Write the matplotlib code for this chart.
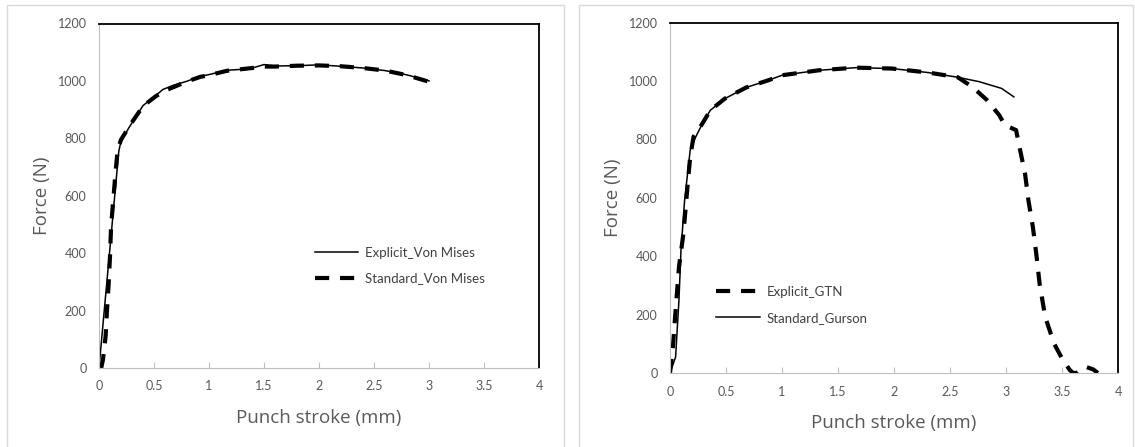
import matplotlib
matplotlib.use("Agg")
import matplotlib.pyplot as plt
from matplotlib.patches import Rectangle

# left panel: von Mises models
vm_explicit_x = [0.0, 0.18, 0.2, 0.28, 0.4, 0.51, 0.58, 0.67, 0.8, 0.92, 1.0, 1.16, 1.37, 1.5,
                 1.6, 1.8, 2.0, 2.2, 2.4, 2.6, 2.8, 3.0]
vm_explicit_f = [0, 755, 790, 842, 914, 947, 970, 984, 999, 1016, 1022, 1037, 1042, 1057,
                 1052, 1053, 1056, 1051, 1045, 1036, 1021, 1000]
vm_standard_x = [0.02, 0.036, 0.06, 0.073, 0.088, 0.10, 0.11, 0.13, 0.15, 0.17, 0.2, 0.28, 0.4,
                 0.51, 0.6, 0.7, 0.8, 0.92, 1.0, 1.16, 1.37, 1.5, 1.6, 1.8, 2.0, 2.2, 2.4,
                 2.6, 2.8, 3.0]
vm_standard_f = [0, 29, 110, 203, 296, 389, 494, 587, 680, 761, 795, 845, 912, 945, 966, 982,
                 998, 1014, 1020, 1035, 1044, 1050, 1050, 1053, 1054, 1051, 1045, 1036,
                 1020, 997]

# right panel: damage models
gtn_x = [0.0, 0.026, 0.05, 0.08, 0.12, 0.156, 0.18, 0.21, 0.29, 0.36, 0.49, 0.68, 0.88, 1.0,
         1.33, 1.66, 1.98, 2.31, 2.57, 2.7, 2.83, 2.94, 2.99, 3.09, 3.12, 3.17, 3.2, 3.24,
         3.27, 3.30, 3.35, 3.43, 3.51, 3.57, 3.6, 3.63, 3.68, 3.72, 3.78, 3.82]
gtn_f = [0, 89, 215, 363, 478, 638, 740, 809, 855, 900, 940, 978, 1003, 1020, 1037, 1046,
         1043, 1029, 1013, 980, 935, 883, 849, 832, 775, 683, 592, 500, 409, 306, 192, 100,
         43, 10, 0, 0, 18, 20, 12, 0]
gurson_x = [0.0, 0.05, 0.08, 0.098, 0.13, 0.18, 0.23, 0.29, 0.36, 0.49, 0.68, 0.88, 1.0, 1.33,
            1.66, 1.98, 2.31, 2.57, 2.76, 2.96, 3.07]
gurson_f = [0, 55, 250, 420, 590, 763, 809, 855, 900, 940, 978, 1003, 1020, 1037, 1046, 1043,
            1029, 1013, 998, 975, 946]

x_ticks = [0, 0.5, 1, 1.5, 2, 2.5, 3, 3.5, 4]
x_ticklabels = ["0", "0.5", "1", "1.5", "2", "2.5", "3", "3.5", "4"]
y_ticks = [0, 200, 400, 600, 800, 1000, 1200]

GREY = "#595959"
W, H = 1135, 447

fig = plt.figure(figsize=(W / 100, H / 100), dpi=100)

# panel frames
for x0, x1 in [(7, 564), (579, 1133)]:
    fig.patches.append(Rectangle((x0 / W, -0.05), (x1 - x0) / W, 1 - 5 / H + 0.05,
                                 transform=fig.transFigure, fill=False,
                                 edgecolor="#d9d9d9", linewidth=1.0))

ax1 = fig.add_axes([99 / W, 1 - 368 / H, 440 / W, 344.5 / H])
ax2 = fig.add_axes([670 / W, 1 - 373 / H, 448 / W, 350.3 / H])

dash_kw = dict(color="black", linewidth=3.0, linestyle=(0, (3.4, 2.6)),
               solid_capstyle="butt", dash_capstyle="butt")
solid_kw = dict(color="black", linewidth=1.1)

ax1.plot(vm_explicit_x, vm_explicit_f, label="Explicit_Von Mises", **solid_kw)
ax1.plot(vm_standard_x, vm_standard_f, label="Standard_Von Mises", **dash_kw)

ax2.plot(gtn_x, gtn_f, label="Explicit_GTN", **dash_kw)
ax2.plot(gurson_x, gurson_f, label="Standard_Gurson", **solid_kw)

for ax in (ax1, ax2):
    ax.set_xlim(0, 4)
    ax.set_ylim(0, 1200)
    ax.set_xticks(x_ticks)
    ax.set_xticklabels(x_ticklabels)
    ax.set_yticks(y_ticks)
    ax.tick_params(axis="x", direction="in", length=4, width=0.8, color="#bfbfbf",
                   labelcolor=GREY, labelsize=9, pad=9)
    ax.tick_params(axis="y", length=0, labelcolor=GREY, labelsize=9, pad=9)
    for lab in ax.get_xticklabels() + ax.get_yticklabels():
        lab.set_family("Lato")
    for side in ("left", "bottom"):
        ax.spines[side].set_color("#bfbfbf")
        ax.spines[side].set_linewidth(0.8)
    for side in ("top", "right"):
        ax.spines[side].set_color("black")
        ax.spines[side].set_linewidth(1.3)
    ax.set_xlabel("Punch stroke (mm)", fontsize=13.5, color=GREY, family="Open Sans", labelpad=12)
    ax.set_ylabel("Force (N)", fontsize=13.5, color=GREY, family="Open Sans", labelpad=5)

leg_kw = dict(frameon=False, loc="center left", borderpad=0, borderaxespad=0,
              handlelength=3.3, handletextpad=0.5, labelspacing=1.05,
              prop={"family": "Lato", "size": 9.5}, labelcolor="#404040")
ax1.legend(bbox_to_anchor=(0.49, 0.2975), **leg_kw)
ax2.legend(bbox_to_anchor=(0.103, 0.194), **leg_kw)

fig.savefig("out.png", dpi=100)
